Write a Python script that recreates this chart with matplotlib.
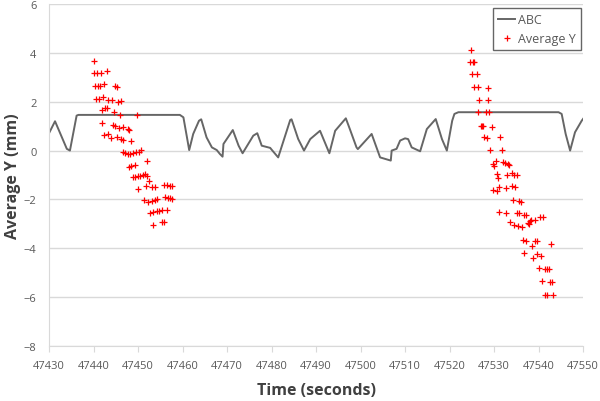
import numpy as np
import matplotlib.pyplot as plt

plt.rcParams['font.family'] = ['Open Sans', 'DejaVu Sans']

# ABC line (time, value)
line_t = [47430.0, 47431.35, 47434.0, 47434.7, 47436.2, 47436.6, 47459.4, 47460.2,
          47461.0, 47461.5, 47462.4, 47463.7, 47464.2, 47465.4, 47466.6, 47467.7,
          47468.4, 47469.0, 47469.2, 47471.3, 47472.6, 47473.5, 47475.9, 47476.8,
          47477.8, 47479.7, 47480.1, 47481.5, 47484.2, 47484.5, 47486.0, 47487.3,
          47488.7, 47490.9, 47493.0, 47494.3, 47496.7, 47497.6, 47499.1, 47499.4,
          47502.5, 47504.4, 47506.8, 47507.0, 47508.1, 47508.9, 47510.0, 47510.7,
          47511.5, 47513.4, 47514.9, 47516.9, 47518.3, 47519.4, 47520.6, 47521.1,
          47522.0, 47544.5, 47545.2, 47546.1, 47547.1, 47548.2, 47549.7, 47550.4]
line_y = [0.71, 1.20, 0.07, 0.0, 1.43, 1.46, 1.46, 1.36,
          0.54, 0.02, 0.68, 1.22, 1.28, 0.54, 0.13, 0.02,
          -0.14, -0.25, 0.27, 0.84, 0.20, -0.11, 0.61, 0.71,
          0.20, 0.11, 0.02, -0.28, 1.25, 1.28, 0.47, 0.0,
          0.47, 0.81, -0.11, 0.81, 1.32, 0.88, 0.13, 0.06,
          0.68, -0.28, -0.41, 0.0, 0.07, 0.41, 0.50, 0.47,
          0.13, -0.03, 0.88, 1.29, 0.47, 0.0, 1.22, 1.50,
          1.57, 1.57, 1.50, 0.68, 0.0, 0.75, 1.22, 1.39]

# Average Y points
avg_t = [47440.1, 47440.0, 47440.7, 47441.6, 47443.0, 47440.3, 47440.9, 47441.5,
         47442.4, 47444.8, 47445.2, 47440.5, 47441.2, 47442.1, 47443.3, 47444.1,
         47445.6, 47446.2, 47441.8, 47442.6, 47443.1, 47444.7, 47446.0, 47449.7,
         47442.0, 47444.3, 47444.8, 47445.7, 47446.7, 47447.7, 47448.0, 47442.4,
         47443.3, 47443.9, 47445.2, 47446.2, 47446.7, 47448.4, 47446.6, 47447.1,
         47447.7, 47448.2, 47448.8, 47449.6, 47450.3, 47450.6, 47452.0, 47448.0,
         47448.4, 47449.3, 47448.8, 47449.3, 47449.9, 47450.4, 47451.1, 47451.6,
         47452.1, 47452.5, 47450.1, 47451.8, 47453.1, 47453.8, 47455.9, 47456.6,
         47457.2, 47457.7, 47451.3, 47452.3, 47453.1, 47453.8, 47454.2, 47456.1,
         47456.7, 47457.2, 47457.7, 47452.7, 47453.4, 47454.2, 47454.7, 47455.3,
         47456.4, 47453.3, 47455.3, 47455.8,
         47524.8, 47524.6, 47525.2, 47525.5, 47525.1, 47526.1, 47525.6, 47526.5,
         47528.7, 47526.7, 47528.6, 47526.3, 47528.1, 47528.9, 47527.0, 47527.4,
         47527.6, 47529.5, 47527.8, 47528.4, 47531.3, 47529.1, 47531.9, 47529.8,
         47530.0, 47530.4, 47532.1, 47532.5, 47533.2, 47533.4, 47530.7, 47531.0,
         47533.0, 47534.0, 47534.5, 47535.1, 47531.2, 47529.8, 47530.6, 47532.8,
         47534.1, 47534.7, 47534.3, 47535.7, 47536.0, 47531.1, 47532.6, 47535.2,
         47535.6, 47536.7, 47537.2, 47538.1, 47538.3, 47539.1, 47540.3, 47541.1,
         47533.6, 47534.6, 47535.3, 47536.2, 47537.6, 47537.9, 47536.4, 47537.2,
         47539.1, 47539.7, 47538.5, 47542.8, 47536.7, 47539.6, 47540.5, 47538.8,
         47540.0, 47541.4, 47541.9, 47542.4, 47540.7, 47542.6, 47543.0, 47541.4,
         47541.9, 47543.2]
avg_y = [3.68, 3.18, 3.18, 3.18, 3.27, 2.66, 2.66, 2.66,
         2.73, 2.63, 2.59, 2.11, 2.11, 2.18, 2.07, 2.07,
         1.98, 2.02, 1.66, 1.73, 1.73, 1.59, 1.46, 1.46,
         1.13, 1.05, 0.99, 0.91, 0.95, 0.88, 0.84, 0.65,
         0.68, 0.50, 0.57, 0.47, 0.43, 0.41, -0.04, -0.10,
         -0.14, -0.14, -0.10, -0.07, -0.04, 0.02, -0.41, -0.66,
         -0.63, -0.58, -1.09, -1.07, -1.04, -1.03, -1.00, -0.95,
         -1.03, -1.23, -1.57, -1.44, -1.50, -1.50, -1.41, -1.41,
         -1.44, -1.46, -2.01, -2.12, -2.05, -2.01, -1.98, -1.91,
         -1.94, -1.95, -1.98, -2.55, -2.53, -2.49, -2.46, -2.43,
         -2.43, -3.03, -2.94, -2.94,
         4.13, 3.61, 3.61, 3.61, 3.14, 3.14, 2.62, 2.62,
         2.56, 2.07, 2.08, 1.59, 1.57, 1.57, 1.02, 1.02,
         1.00, 0.98, 0.54, 0.52, 0.57, 0.02, 0.02, -0.55,
         -0.62, -0.43, -0.48, -0.51, -0.55, -0.58, -0.96, -1.12,
         -1.00, -0.93, -0.99, -1.00, -1.48, -1.60, -1.64, -1.53,
         -1.44, -1.50, -2.01, -2.05, -2.09, -2.50, -2.55, -2.55,
         -2.57, -2.62, -2.62, -2.87, -2.84, -2.84, -2.73, -2.73,
         -2.94, -3.05, -3.07, -3.12, -2.98, -3.00, -3.65, -3.69,
         -3.69, -3.71, -3.89, -3.82, -4.19, -4.23, -4.30, -4.41,
         -4.79, -4.85, -4.85, -4.85, -5.33, -5.39, -5.39, -5.90,
         -5.90, -5.90]

xticks = np.arange(47430, 47551, 10)
yticks = np.arange(-8, 7, 2)

fig = plt.figure(figsize=(6, 4.02), dpi=100)
ax = fig.add_axes([0.0817, 0.1368, 0.89, 0.8508])

ax.plot(line_t, line_y, color="#666666", linewidth=1.4, label="ABC", zorder=2)
ax.plot(avg_t, avg_y, linestyle="none", marker="+", color="red", markersize=4,
        markeredgewidth=0.9, label="Average Y", zorder=3)

ax.set_xlim(47430, 47550)
ax.set_ylim(-8, 6)
ax.set_xticks(xticks)
ax.set_yticks(yticks)
ax.grid(axis="y", color="#d9d9d9", linewidth=1)
ax.set_axisbelow(True)
for s in ["top", "right"]:
    ax.spines[s].set_visible(False)
for s in ["left", "bottom"]:
    ax.spines[s].set_color("#d9d9d9")
ax.tick_params(axis="x", colors="#595959", labelsize=8, length=4, color="#d9d9d9", pad=6)
ax.tick_params(axis="y", colors="#595959", labelsize=8, length=0, pad=9)

ax.set_xlabel("Time (seconds)", fontsize=11.5, fontweight="bold", color="#404040", labelpad=8)
ax.set_ylabel("Average Y (mm)", fontsize=11.5, fontweight="bold", color="#404040", labelpad=2)

leg = ax.legend(loc="upper right", bbox_to_anchor=(1.0, 0.995), borderaxespad=0.2,
                fancybox=False, fontsize=9, handlelength=1.4, handletextpad=0.2,
                labelcolor="#595959", borderpad=0.4)
leg.get_frame().set_edgecolor("#404040")
leg.get_frame().set_linewidth(1)

fig.savefig("out.png", dpi=100)
